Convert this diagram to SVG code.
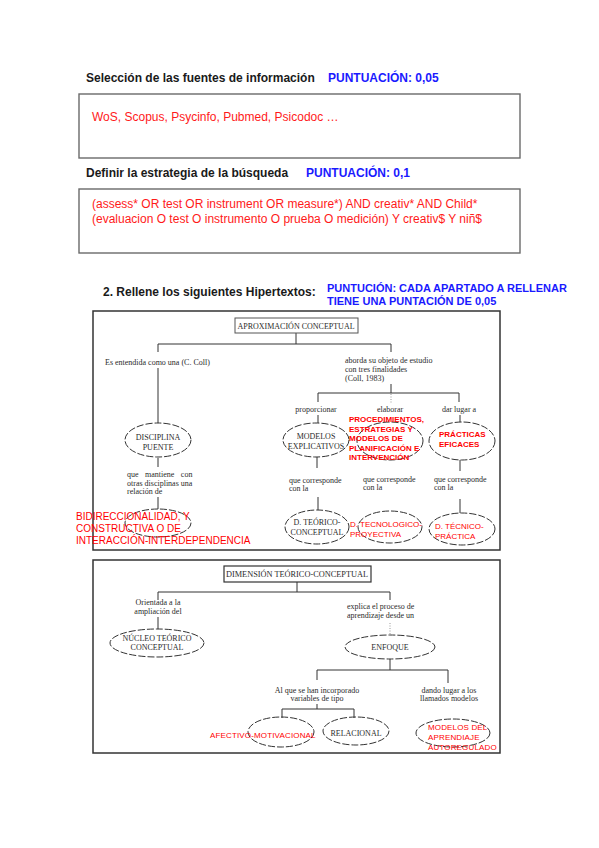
<svg xmlns="http://www.w3.org/2000/svg" width="599" height="848" viewBox="0 0 599 848">
<style>
.hdr{font-family:"Liberation Sans",Arial,sans-serif;font-weight:bold;font-size:12px;fill:#1a1a1a}
.pts{font-family:"Liberation Sans",Arial,sans-serif;font-weight:bold;font-size:12px;fill:#1a1aff}
.pts11{font-family:"Liberation Sans",Arial,sans-serif;font-weight:bold;font-size:11px;fill:#1a1aff}
.ans{font-family:"Liberation Sans",Arial,sans-serif;font-size:12px;fill:#ff1a1a}
.box{fill:#fff;stroke:#6a6a6a;stroke-width:1.4}
.frame{fill:#fff;stroke:#333;stroke-width:1.5}
.scan{font-family:"Liberation Serif","Times New Roman",serif;font-size:8px;fill:#2b2b2b}
.mid{text-anchor:middle}
.r10{font-family:"Liberation Sans",Arial,sans-serif;font-size:10px;fill:#ff0000}
.r8{font-family:"Liberation Sans",Arial,sans-serif;font-size:8px;fill:#ff0000}
.r8b{font-family:"Liberation Sans",Arial,sans-serif;font-size:8px;font-weight:bold;fill:#ff0000}
.ell{fill:none;stroke:#333;stroke-width:1;stroke-dasharray:7 2}
.con{fill:none;stroke:#333;stroke-width:1}
.dot{fill:none;stroke:#999;stroke-width:1;stroke-dasharray:1 1.5}
.tbox{fill:#fff;stroke:#555;stroke-width:1}
</style>
<rect width="599" height="848" fill="#fff"/>

<g id="section1">
<text class="hdr" x="86" y="82">Selección de las fuentes de información</text>
<text class="pts" x="328" y="82">PUNTUACIÓN: 0,05</text>
<rect class="box" x="79" y="94" width="441" height="64"/>
<text class="ans" x="92" y="121">WoS, Scopus, Psycinfo, Pubmed, Psicodoc …</text>
</g>

<g id="section2">
<text class="hdr" x="86" y="177">Definir la estrategia de la búsqueda</text>
<text class="pts" x="306" y="177">PUNTUACIÓN: 0,1</text>
<rect class="box" x="79" y="189" width="441" height="64"/>
<text class="ans" x="92" y="208">(assess* OR test OR instrument OR measure*) AND creativ* AND Child*</text>
<text class="ans" x="92" y="223">(evaluacion O test O instrumento O prueba O medición) Y creativ$ Y niñ$</text>
</g>

<g id="section3-title">
<text class="hdr" x="103" y="296">2.  Rellene los siguientes Hipertextos:</text>
<text class="pts11" x="327" y="292">PUNTUCIÓN: CADA APARTADO A RELLENAR</text>
<text class="pts11" x="327" y="305">TIENE UNA PUNTACIÓN DE 0,05</text>
</g>

<rect class="frame" x="93" y="311" width="407" height="239"/>
<rect class="frame" x="93" y="560" width="407" height="193"/>

<g id="connectors">
<path class="con" d="M296,333V344M158,344H391M158,344V352M391,344V352M158,368V423M391,384V393M318,393H459M318,393V402M459,393V402M318,415V423M460,415V422M158,458V467M158,497V509M317,457V468M460,460V471M318,497V510M460,499V513"/>
<path class="dot" d="M391,394V403"/>
<path class="con" d="M297,582V592M158,592H390M158,592V600M390,592V600M158,617V629M390,659V670M317,670H448M317,670V680M448,670V683M317,704V709M282,709H354M282,709V718M354,709V718"/>
<path class="dot" d="M390,623V635"/>
</g>

<g id="n-aproximacion">
<rect class="tbox" x="235" y="318" width="123" height="15"/>
<text class="scan mid" x="296" y="329">APROXIMACIÓN CONCEPTUAL</text>
</g>
<g id="n-entendida">
<text class="scan" x="105" y="365">Es entendida como una (C. Coll)</text>
</g>
<g id="n-aborda">
<text class="scan" x="345" y="363">aborda su objeto de estudio</text>
<text class="scan" x="345" y="372">con tres finalidades</text>
<text class="scan" x="345" y="381">(Coll, 1983)</text>
</g>
<g id="n-labels">
<text class="scan mid" x="316" y="412">proporcionar</text>
<text class="scan mid" x="390" y="412">elaborar</text>
<text class="scan mid" x="459" y="412">dar lugar a</text>
</g>
<g id="n-disciplina">
<ellipse class="ell" cx="158" cy="440" rx="33" ry="17"/>
<text class="scan mid" x="158" y="440">DISCIPLINA</text>
<text class="scan mid" x="158" y="450">PUENTE</text>
</g>
<g id="n-mantiene">
<text class="scan" x="127" y="477" style="word-spacing:4.5px">que mantiene con</text>
<text class="scan" x="127" y="486">otras disciplinas una</text>
<text class="scan" x="127" y="494">relación de</text>
</g>
<g id="n-bidireccionalidad">
<ellipse class="ell" cx="158" cy="523" rx="33" ry="14"/>
<text class="r10" x="76" y="520">BIDIRECCIONALIDAD, Y</text>
<text class="r10" x="76" y="532">CONSTRUCTIVA O DE</text>
<text class="r10" x="76" y="544">INTERACCIÓN-INTERDEPENDENCIA</text>
</g>
<g id="n-modelos-explicativos">
<ellipse class="ell" cx="316" cy="440" rx="33" ry="17"/>
<text class="scan mid" x="316" y="439">MODELOS</text>
<text class="scan mid" x="316" y="449">EXPLICATIVOS</text>
</g>
<g id="n-procedimientos">
<ellipse class="ell" cx="390" cy="441" rx="33" ry="19"/>
<text class="r8b" x="349" y="422">PROCEDIMIENTOS,</text>
<text class="r8b" x="349" y="432">ESTRATEGIAS Y</text>
<text class="r8b" x="349" y="441">MODELOS DE</text>
<text class="r8b" x="349" y="451">PLANIFICACIÓN E</text>
<text class="r8b" x="349" y="460">INTERVENCIÓN</text>
</g>
<g id="n-practicas">
<ellipse class="ell" cx="462" cy="441" rx="33" ry="19"/>
<text class="r8b" x="439" y="437">PRÁCTICAS</text>
<text class="r8b" x="439" y="447">EFICACES</text>
</g>
<g id="n-corresponde">
<text class="scan" x="289" y="483">que corresponde</text>
<text class="scan" x="289" y="491">con la</text>
<text class="scan" x="363" y="482">que corresponde</text>
<text class="scan" x="363" y="490">con la</text>
<text class="scan" x="434" y="482">que corresponde</text>
<text class="scan" x="434" y="490">con la</text>
</g>
<g id="n-teorico-conceptual">
<ellipse class="ell" cx="317" cy="527" rx="32" ry="17"/>
<text class="scan mid" x="317" y="525">D. TEÓRICO-</text>
<text class="scan mid" x="317" y="535">CONCEPTUAL</text>
</g>
<g id="n-tecnologico">
<ellipse class="ell" cx="390" cy="527" rx="32" ry="16"/>
<text class="r8" x="350" y="527">D. TECNOLOGICO-</text>
<text class="r8" x="350" y="537">PROYECTIVA</text>
</g>
<g id="n-tecnico-practica">
<ellipse class="ell" cx="462" cy="529" rx="33" ry="16"/>
<text class="r8" x="435" y="529">D. TÉCNICO-</text>
<text class="r8" x="435" y="539">PRÁCTICA</text>
</g>

<g id="n-dimension">
<rect class="tbox" x="224" y="566" width="147" height="16" style="stroke:#333;stroke-width:1.2"/>
<text class="scan mid" x="297" y="577" style="font-size:8.3px">DIMENSIÓN TEÓRICO-CONCEPTUAL</text>
</g>
<g id="n-orientada">
<text class="scan mid" x="158" y="605">Orientada a la</text>
<text class="scan mid" x="158" y="614">ampliación del</text>
</g>
<g id="n-nucleo">
<ellipse class="ell" cx="157" cy="643" rx="47" ry="14"/>
<text class="scan mid" x="157" y="641">NÚCLEO TEÓRICO</text>
<text class="scan mid" x="157" y="650">CONCEPTUAL</text>
</g>
<g id="n-explica">
<text class="scan" x="347" y="609">explica el proceso de</text>
<text class="scan" x="347" y="618">aprendizaje desde un</text>
</g>
<g id="n-enfoque">
<ellipse class="ell" cx="390" cy="647" rx="45" ry="12"/>
<text class="scan mid" x="390" y="650">ENFOQUE</text>
</g>
<g id="n-incorporado">
<text class="scan mid" x="317" y="693">Al que se han incorporado</text>
<text class="scan mid" x="317" y="701">variables de tipo</text>
</g>
<g id="n-dando">
<text class="scan mid" x="449" y="693">dando lugar a los</text>
<text class="scan mid" x="449" y="701">llamados modelos</text>
</g>
<g id="n-afectivo">
<ellipse class="ell" cx="281" cy="732" rx="33" ry="15"/>
<text class="r8" x="210" y="738" style="letter-spacing:0.15px">AFECTIVO-MOTIVACIONAL</text>
</g>
<g id="n-relacional">
<ellipse class="ell" cx="356" cy="731" rx="33" ry="14"/>
<text class="scan mid" x="356" y="736">RELACIONAL</text>
</g>
<g id="n-autoregulado">
<ellipse class="ell" cx="453" cy="733" rx="37" ry="14"/>
<text class="r8" x="428" y="730" style="letter-spacing:0.15px">MODELOS DEL</text>
<text class="r8" x="428" y="740" style="letter-spacing:0.15px">APRENDIAJE</text>
<text class="r8" x="428" y="750" style="letter-spacing:0.15px">AUTOREGULADO</text>
</g>
</svg>
